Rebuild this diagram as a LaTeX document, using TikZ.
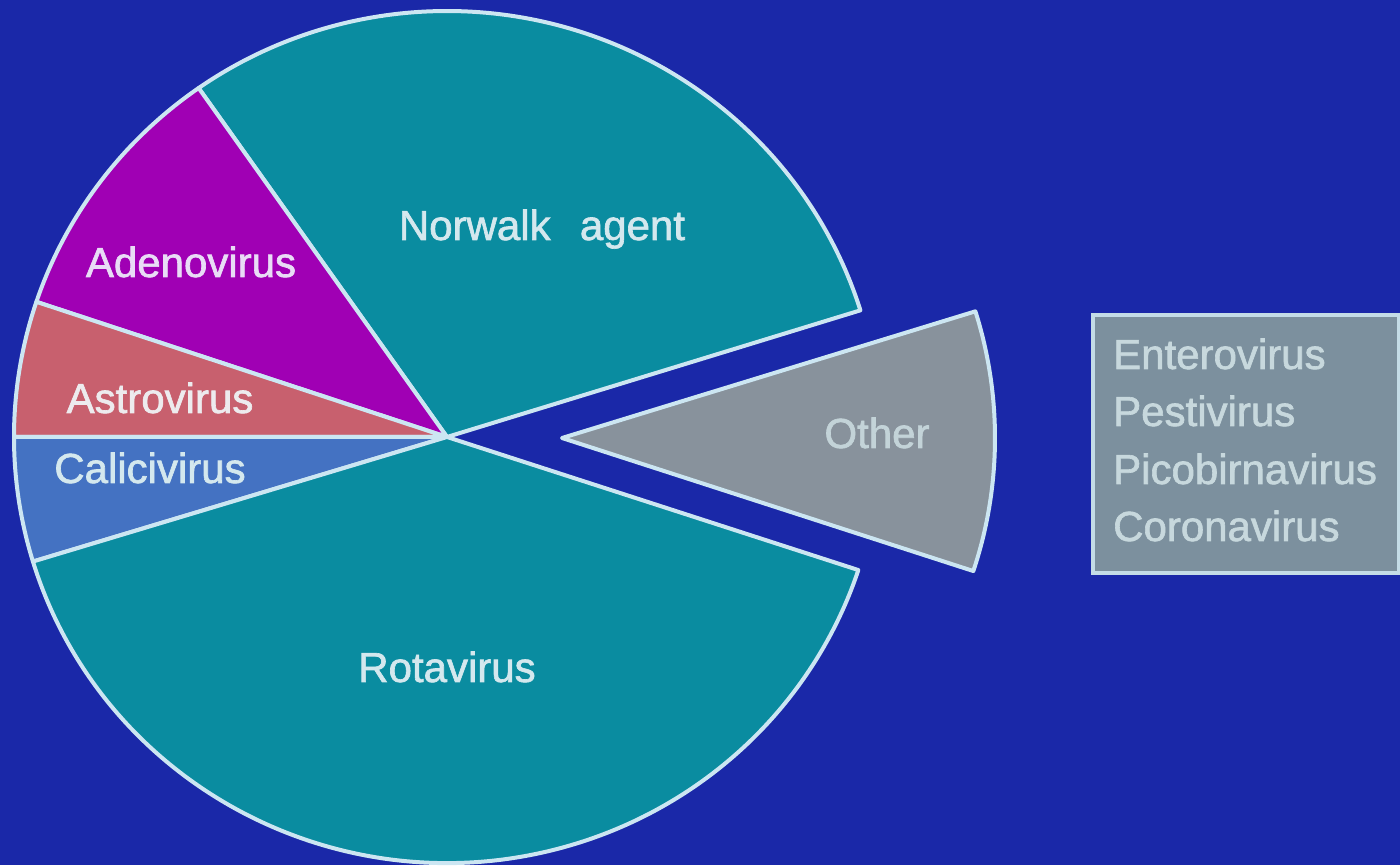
\documentclass[tikz,border=0pt]{standalone}
\usepackage{fontspec}
\setmainfont[FakeBold=1.5]{Liberation Sans}
\definecolor{bgblue}{HTML}{1A28A8}
\definecolor{tealc}{HTML}{0A8CA0}
\definecolor{magc}{HTML}{A000B4}
\definecolor{astroc}{HTML}{C8606E}
\definecolor{calic}{HTML}{4472C2}
\definecolor{otherc}{HTML}{88929C}
\definecolor{legc}{HTML}{7C909E}
\definecolor{linec}{HTML}{CCE6F2}
\definecolor{txtc}{HTML}{D4E8EE}
\tikzset{
  slice/.style={draw=linec, line width=4pt, line join=round},
  lbl/.style={text=txtc, font=\fontsize{42}{50}\selectfont, inner sep=0pt, anchor=base},
  leglbl/.style={text=txtc!85!gray, font=\fontsize{42}{50}\selectfont, inner sep=0pt, anchor=base west},
}
\begin{document}
\begin{tikzpicture}[x=1pt,y=1pt]
\fill[bgblue] (0,0) rectangle (1400,865);
\useasboundingbox (0,0) rectangle (1400,865);
\coordinate (C) at (447,428);
\coordinate (T) at (562,427);
% Norwalk agent
\path[slice, fill=tealc] (C) -- +(17.3:433 and 426) arc[start angle=17.3, end angle=125, x radius=433, y radius=426] -- cycle;
% Adenovirus
\path[slice, fill=magc] (C) -- +(125:433 and 426) arc[start angle=125, end angle=161.5, x radius=433, y radius=426] -- cycle;
% Astrovirus
\path[slice, fill=astroc] (C) -- +(161.5:433 and 426) arc[start angle=161.5, end angle=180, x radius=433, y radius=426] -- cycle;
% Calicivirus
\path[slice, fill=calic] (C) -- +(180:433 and 426) arc[start angle=180, end angle=197, x radius=433, y radius=426] -- cycle;
% Rotavirus
\path[slice, fill=tealc] (C) -- +(197:433 and 426) arc[start angle=197, end angle=341.8, x radius=433, y radius=426] -- cycle;
% Other (exploded)
\path[slice, fill=otherc] (T) -- +(-18.2:433 and 426) arc[start angle=-18.2, end angle=17.3, x radius=433, y radius=426] -- cycle;
% labels
\node[lbl] (norwalk) at (542,625) {Norwalk\hspace{0.7em}agent};
\node[lbl, text=txtc!85!magenta!60!white] (adeno) at (191,588) {Adenovirus};
\node[lbl, text=txtc!80!astroc!40!white] (astro) at (160,452) {Astrovirus};
\node[lbl] (calici) at (150,382) {Calicivirus};
\node[lbl] (rota) at (447,183) {Rotavirus};
\node[lbl, text=txtc!80!gray] (other) at (877,417) {Other};
% legend box
\node[draw=linec!90!gray, line width=4pt, fill=legc, minimum width=306pt, minimum height=258pt, inner sep=0pt, anchor=north west] (legend) at (1091,552) {};
\node[leglbl] (ent) at (1113,496) {Enterovirus};
\node[leglbl] (pes) at (1113,439) {Pestivirus};
\node[leglbl] (pic) at (1113,381) {Picobirnavirus};
\node[leglbl] (cor) at (1113,324) {Coronavirus};
\end{tikzpicture}
\end{document}
